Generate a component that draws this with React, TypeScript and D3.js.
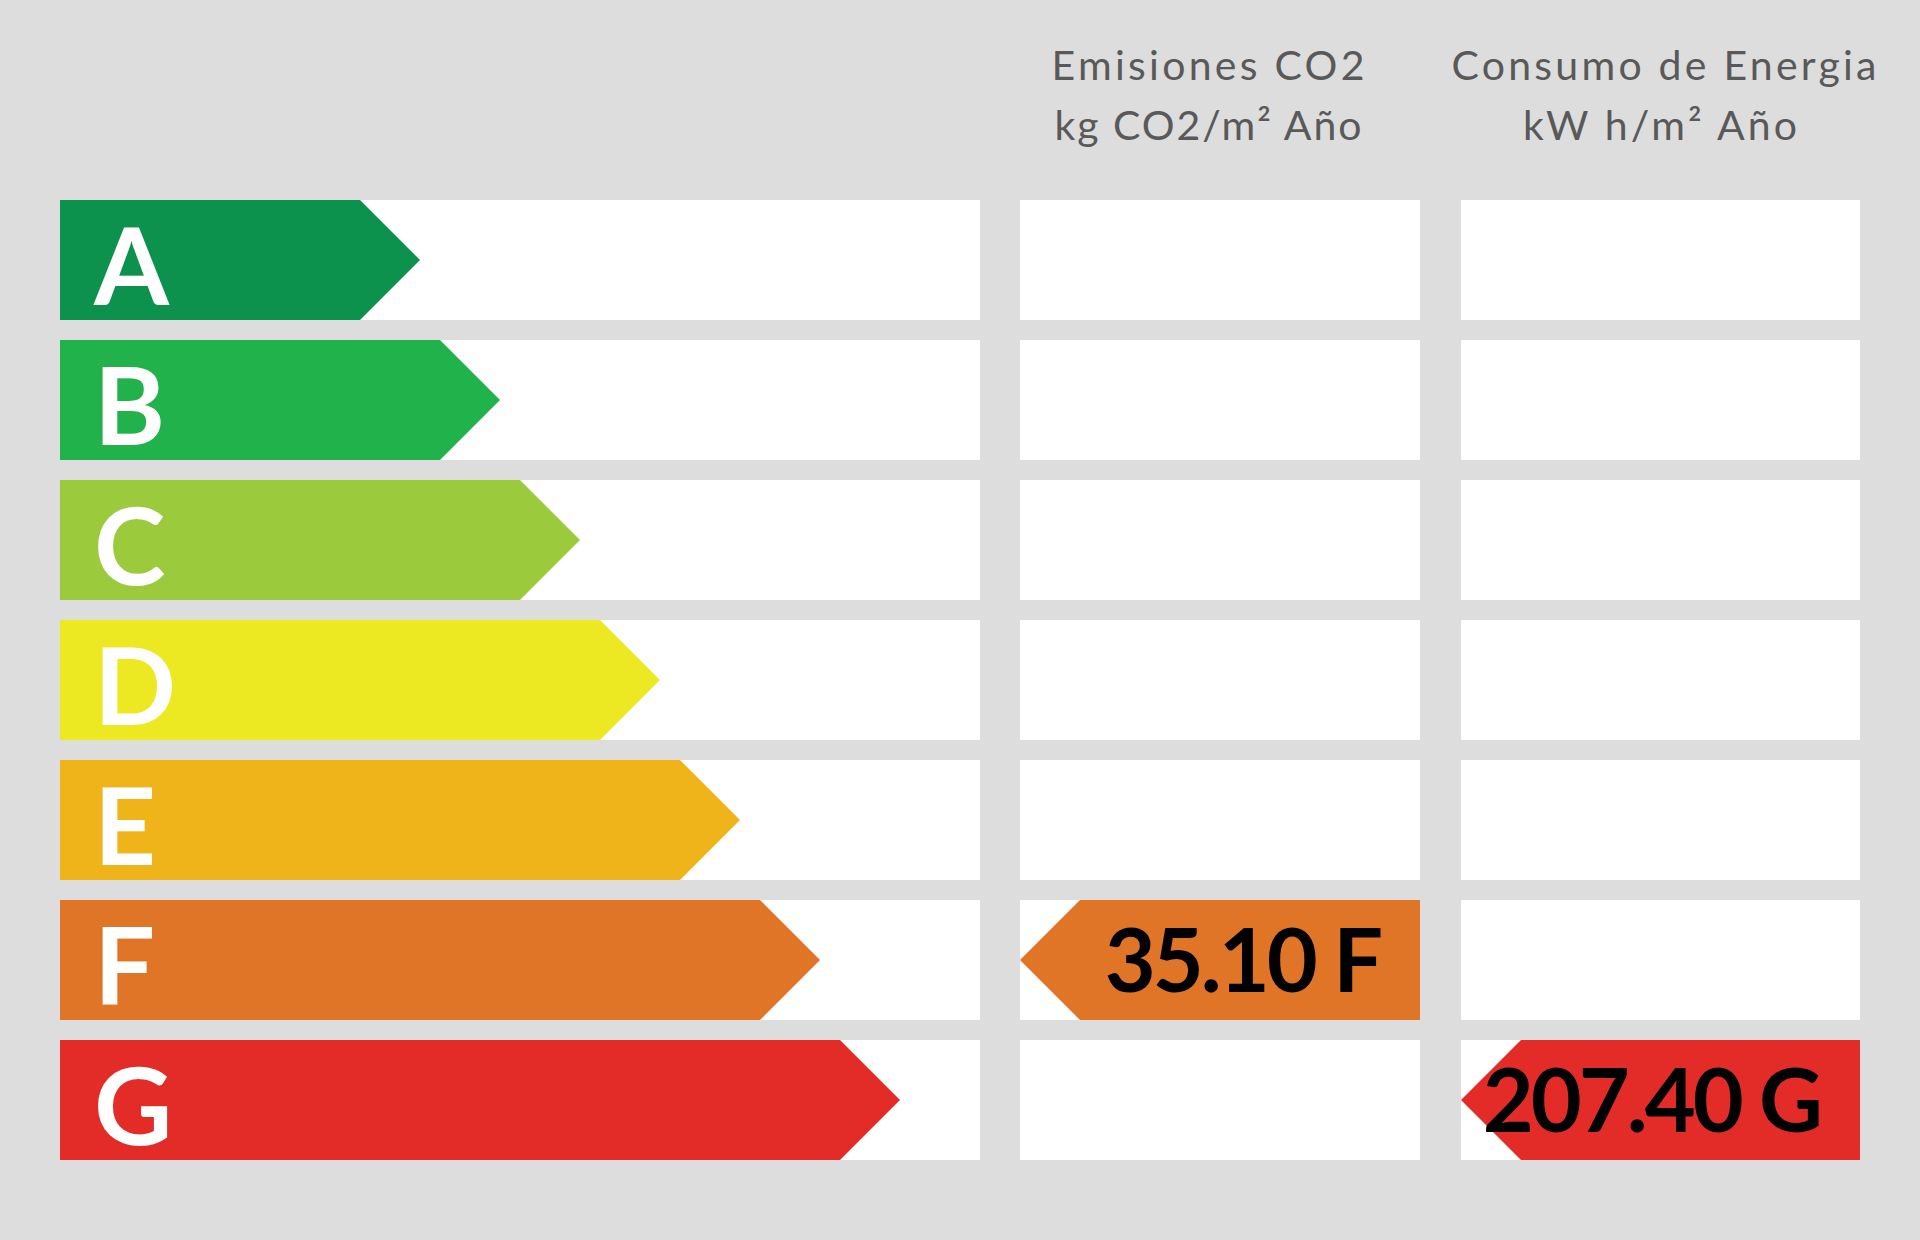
import React, { useEffect, useRef } from "react"
import * as d3 from "d3"

const grades = ["A", "B", "C", "D", "E", "F", "G"]
const gradeColors = ["#0c924c", "#22b24b", "#9bca3c", "#ece822", "#efb419", "#e07528", "#e32c28"]

const columnTitles = ["Emisiones CO2", "Consumo de Energia"]
const columnUnits = ["kg CO2/m² Año", "kW h/m² Año"]
const columnValues = [35.1, 207.4]
const columnGrades = ["F", "G"]

const W = 1920
const H = 1240

export default function App() {
  const ref = useRef<SVGSVGElement>(null)

  useEffect(() => {
    document.body.style.margin = "0"
    if (!ref.current) return
    const svg = d3.select(ref.current)
    svg.selectAll("*").remove()

    svg.append("rect").attr("width", W).attr("height", H).attr("fill", "#dddddd")

    const y = d3.scaleBand<string>().domain(grades).range([200, 1160]).paddingInner(1 / 7).paddingOuter(0)
    const bh = y.bandwidth()

    // arrow body length grows with the grade
    const arrowEnd = d3.scaleLinear().domain([0, grades.length - 1]).range([360, 840])
    const tip = 60

    // panels: scale left, then two value columns
    const panels = [
      { x0: 60, x1: 980 },
      { x0: 1020, x1: 1420 },
      { x0: 1461, x1: 1860 },
    ]

    panels.forEach((p) => {
      svg
        .append("g")
        .selectAll("rect")
        .data(grades)
        .join("rect")
        .attr("x", p.x0)
        .attr("y", (d) => y(d)!)
        .attr("width", p.x1 - p.x0)
        .attr("height", bh)
        .attr("fill", "#ffffff")
    })

    const line = d3.line()

    const scale = svg.append("g")
    grades.forEach((g, i) => {
      const top = y(g)!
      const xe = arrowEnd(i)
      scale
        .append("path")
        .attr(
          "d",
          line([
            [panels[0].x0, top],
            [xe, top],
            [xe + tip, top + bh / 2],
            [xe, top + bh],
            [panels[0].x0, top + bh],
          ]) + "Z"
        )
        .attr("fill", gradeColors[i])
      scale
        .append("text")
        .attr("x", 94)
        .attr("y", top + 105)
        .attr("fill", "#ffffff")
        .attr("font-family", "Lato, 'Open Sans', sans-serif")
        .attr("font-weight", 700)
        .attr("font-size", 108)
        .text(g)
    })

    // column headers (widths matched to the original text)
    const headerCenters = [1208, 1664]
    const titleWidths = [313, 425]
    const unitWidths = [307, 274]
    columnTitles.forEach((t, i) => {
      const g = svg
        .append("g")
        .attr("fill", "#595959")
        .attr("font-family", "Lato, 'Open Sans', sans-serif")
        .attr("font-size", 41)
      g.append("text")
        .attr("x", headerCenters[i] - titleWidths[i] / 2)
        .attr("y", 80)
        .attr("textLength", titleWidths[i])
        .attr("lengthAdjust", "spacing")
        .text(t)
      g.append("text")
        .attr("x", headerCenters[i] - (i === 1 ? 4 : 0) - unitWidths[i] / 2)
        .attr("y", 140)
        .attr("textLength", unitWidths[i])
        .attr("lengthAdjust", "spacing")
        .text(columnUnits[i])
    })

    // value indicators
    columnValues.forEach((v, i) => {
      const p = panels[i + 1]
      const gi = grades.indexOf(columnGrades[i])
      const top = y(columnGrades[i])!
      svg
        .append("path")
        .attr(
          "d",
          line([
            [p.x0, top + bh / 2],
            [p.x0 + tip, top],
            [p.x1, top],
            [p.x1, top + bh],
            [p.x0 + tip, top + bh],
          ]) + "Z"
        )
        .attr("fill", gradeColors[gi])
      svg
        .append("text")
        .attr("x", p.x1 - 40)
        .attr("y", top + 92)
        .attr("text-anchor", "end")
        .attr("fill", "#000000")
        .attr("font-family", "Lato, 'Open Sans', sans-serif")
        .attr("font-weight", 700)
        .attr("font-size", 88)
        .attr("letter-spacing", -3)
        .text(`${v.toFixed(2)} ${columnGrades[i]}`)
    })
  }, [])

  return <svg ref={ref} width={W} height={H} style={{ display: "block" }} />
}
